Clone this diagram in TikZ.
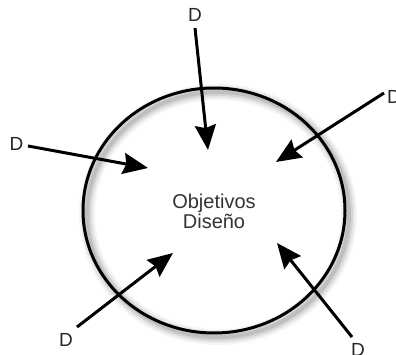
\documentclass[tikz,border=0pt]{standalone}
\usepackage{fontspec}
\setmainfont{Liberation Sans}
\usetikzlibrary{arrows.meta,shapes.geometric}
\begin{document}
\begin{tikzpicture}[x=1pt,y=-1pt,
  lbl/.style={font=\fontsize{19}{19}\selectfont,text=black!85,inner sep=0pt},
  push/.style={line width=3pt,-{Stealth[length=25pt,width=21pt,inset=3pt]}}]
  \useasboundingbox (0,0) rectangle (396,355);
  % Coordinates
  \coordinate (C) at (214,210.5);
  \coordinate (S1) at (195,28);
  \coordinate (S2) at (384,93);
  \coordinate (S3) at (28,146);
  \coordinate (S4) at (77,327);
  \coordinate (S5) at (352,337);
  \coordinate (T1) at (208,150);
  \coordinate (T2) at (276,162);
  \coordinate (T3) at (148,168);
  \coordinate (T4) at (173,253);
  \coordinate (T5) at (277,243);

  % Drawing
  \foreach \w/\o in {16/0.04,12/0.06,8/0.08,4/0.1}
    \draw[black,opacity=\o,line width=\w pt] ([shift={(4,4)}]C) ellipse [x radius=131,y radius=122.5];
  \node[draw,ellipse,line width=3pt,minimum width=262pt,minimum height=245pt] (O) at (C) {};
  \node[font=\fontsize{20}{20}\selectfont,align=center,text=black!80] (G) at (214,211) {Objetivos\\Diseño};
  \node[lbl] (D1) at (195,15) {D};
  \node[lbl] (D2) at (394,97) {D};
  \node[lbl] (D3) at (16.5,143.5) {D};
  \node[lbl] (D4) at (66,340) {D};
  \node[lbl] (D5) at (358,350) {D};
  \draw[push] (S1) -- (T1);
  \draw[push] (S2) -- (T2);
  \draw[push] (S3) -- (T3);
  \draw[push] (S4) -- (T4);
  \draw[push] (S5) -- (T5);
\end{tikzpicture}
\end{document}
